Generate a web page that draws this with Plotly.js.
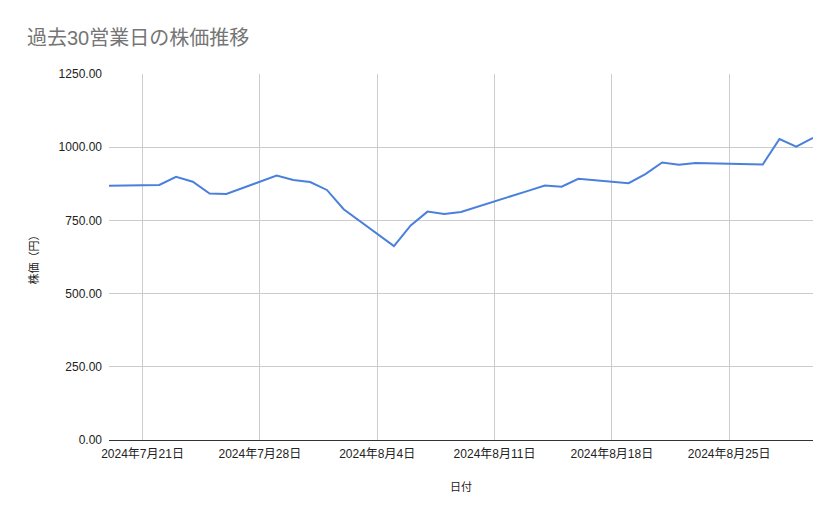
<!DOCTYPE html>
<html>
<head>
<meta charset="utf-8">
<script src="https://cdn.plot.ly/plotly-3.0.1.min.js"></script>
<style>html,body{margin:0;padding:0;background:#fff;}#chart{width:839px;height:519px;}</style>
</head>
<body>
<div id="chart"></div>
<script>
const dates = [
  "2024-07-19","2024-07-22","2024-07-23","2024-07-24","2024-07-25","2024-07-26",
  "2024-07-29","2024-07-30","2024-07-31","2024-08-01","2024-08-02",
  "2024-08-05","2024-08-06","2024-08-07","2024-08-08","2024-08-09",
  "2024-08-13","2024-08-14","2024-08-15","2024-08-16",
  "2024-08-19","2024-08-20","2024-08-21","2024-08-22","2024-08-23",
  "2024-08-26","2024-08-27","2024-08-28","2024-08-29","2024-08-30"
];
const prices = [
  868, 871, 899, 882, 842, 840,
  903, 888, 881, 854, 788,
  662, 733, 780, 772, 779,
  851, 869, 865, 892,
  877, 908, 948, 940, 946,
  941, 941, 1028, 1002, 1032
];
const tickDates = ["2024-07-21","2024-07-28","2024-08-04","2024-08-11","2024-08-18","2024-08-25"];
const tickLabels = ["2024年7月21日","2024年7月28日","2024年8月4日","2024年8月11日","2024年8月18日","2024年8月25日"];
const yTicks = [0, 250, 500, 750, 1000, 1250];

const font = "'Liberation Sans', Arial, 'Noto Sans CJK JP', sans-serif";

Plotly.newPlot("chart", [{
  x: dates,
  y: prices,
  type: "scatter",
  mode: "lines",
  line: {color: "#4a80dc", width: 2},
  hoverinfo: "skip"
}], {
  width: 839,
  height: 519,
  margin: {l: 109, r: 26, t: 74, b: 79},
  paper_bgcolor: "#fff",
  plot_bgcolor: "#fff",
  showlegend: false,
  title: {
    text: "過去30営業日の株価推移",
    x: 27/839, xanchor: "left",
    y: 1 - 38/519, yanchor: "middle",
    font: {family: font, size: 20, color: "#757575"}
  },
  xaxis: {
    type: "date",
    range: ["2024-07-19", "2024-08-30"],
    tickvals: tickDates,
    ticktext: tickLabels,
    showgrid: true,
    gridcolor: "#cccccc",
    gridwidth: 1,
    showline: true,
    linecolor: "#333333",
    linewidth: 1,
    ticks: "",
    ticklabelstandoff: 3,
    tickfont: {family: font, size: 12, color: "#222"},
    title: {text: "日付", font: {family: font, size: 11, color: "#222"}, standoff: 22},
    zeroline: false,
    fixedrange: true
  },
  yaxis: {
    range: [0, 1250],
    tickvals: yTicks,
    tickformat: ".2f",
    showgrid: true,
    gridcolor: "#cccccc",
    gridwidth: 1,
    zeroline: false,
    showline: false,
    ticks: "",
    ticklabelstandoff: 6,
    tickfont: {family: font, size: 12, color: "#222"},
    title: {text: "株価（円）", font: {family: font, size: 11, color: "#222"}, standoff: 17},
    fixedrange: true
  }
}, {displayModeBar: false, staticPlot: true});
</script>
</body>
</html>
